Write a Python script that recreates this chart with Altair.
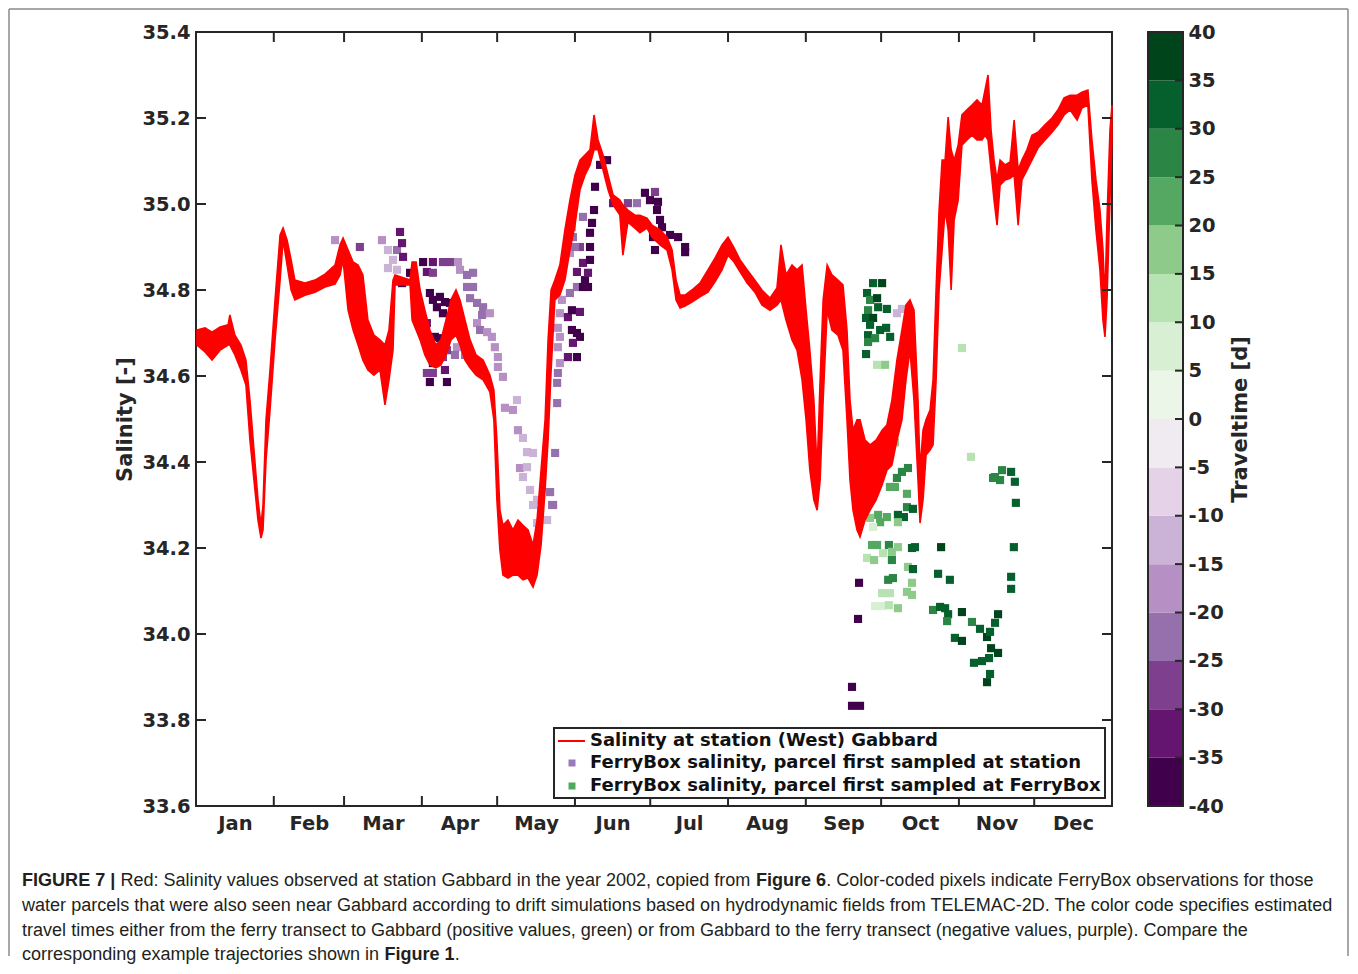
import altair as alt
import pandas as pd

# ---------------- data ----------------
# Salinity at station Gabbard (2002): upper / lower envelope of the tidal band
sal_day = [0.4, 3.6, 6.4, 9.6, 12.8, 13.5, 15.5, 17.9, 19.9, 21.5, 23.1, 24.7, 25.9, 26.7, 27.9, 29.5,
           31.5, 33.5, 34.7, 36.3, 37.9, 39.4, 43.4, 47.4, 51.4, 55.4, 57.4, 58.6, 60.6, 62.6, 64.6, 66.5,
           68.5, 70.9, 73.3, 75.3, 76.9, 78.5, 79.3, 85.3, 86.1, 87.7, 89.3, 91.2, 93.2, 95.6, 97.6, 99.6,
           101.6, 103.6, 105.2, 107.2, 109.2, 111.6, 114.4, 117.1, 118.7, 119.9, 121.1, 122.3, 124.3, 126.3,
           128.3, 130.3, 132.3, 134.3, 135.9, 137.5, 139.1, 140.3, 141.5, 143.0, 145.0, 147.0, 149.0, 151.0,
           153.0, 155.0, 157.0, 158.6, 160.2, 162.2, 164.2, 166.2, 168.9, 170.1, 172.1, 174.9, 176.9, 179.7,
           181.7, 184.9, 187.7, 189.7, 191.3, 192.9, 194.9, 197.6, 200.8, 204.0, 206.8, 209.6, 212.0, 214.4,
           216.8, 219.6, 222.7, 225.5, 228.7, 231.5, 233.1, 235.1, 237.5, 239.5, 241.5, 243.1, 244.6, 246.2,
           247.5, 248.7, 249.9, 251.5, 253.4, 255.8, 257.8, 259.4, 260.6, 261.8, 263.4, 264.6, 266.6, 268.6,
           271.0, 273.4, 275.3, 277.3, 279.3, 281.3, 282.9, 284.5, 286.1, 287.7, 288.5, 289.7, 290.9, 292.5,
           293.7, 294.9, 296.1, 297.3, 298.5, 299.7, 300.9, 302.1, 303.7, 305.2, 307.2, 309.2, 311.2, 313.2,
           314.4, 315.6, 316.8, 318.0, 319.2, 320.4, 322.4, 324.4, 326.0, 327.6, 329.1, 331.1, 333.1, 335.5,
           338.3, 341.1, 343.5, 345.9, 348.3, 351.1, 353.0, 355.4, 357.0, 358.6, 360.2, 361.4, 362.2, 363.0,
           364.2, 365.0]
sal_hi = [34.707, 34.712, 34.702, 34.714, 34.719, 34.742, 34.695, 34.672, 34.637, 34.544, 34.428, 34.312,
          34.253, 34.300, 34.498, 34.614, 34.777, 34.928, 34.944, 34.916, 34.870, 34.823, 34.816, 34.823,
          34.837, 34.858, 34.905, 34.921, 34.893, 34.865, 34.858, 34.835, 34.730, 34.695, 34.684, 34.672,
          34.707, 34.823, 34.835, 34.823, 34.865, 34.865, 34.800, 34.753, 34.707, 34.672, 34.684, 34.730,
          34.777, 34.800, 34.777, 34.730, 34.684, 34.649, 34.637, 34.602, 34.567, 34.451, 34.288, 34.253,
          34.265, 34.242, 34.265, 34.253, 34.242, 34.207, 34.265, 34.381, 34.498, 34.684, 34.800, 34.823,
          34.858, 34.940, 35.009, 35.067, 35.102, 35.114, 35.126, 35.207, 35.149, 35.114, 35.067, 35.021,
          35.009, 34.998, 34.986, 34.974, 34.974, 34.967, 34.951, 34.940, 34.923, 34.893, 34.823, 34.788,
          34.788, 34.800, 34.816, 34.847, 34.874, 34.905, 34.923, 34.898, 34.870, 34.847, 34.823, 34.800,
          34.781, 34.805, 34.905, 34.835, 34.858, 34.847, 34.858, 34.753, 34.660, 34.544, 34.381, 34.591,
          34.777, 34.858, 34.835, 34.823, 34.812, 34.707, 34.544, 34.474, 34.498, 34.498, 34.451, 34.440,
          34.451, 34.474, 34.486, 34.544, 34.637, 34.707, 34.765, 34.777, 34.753, 34.544, 34.381, 34.474,
          34.498, 34.521, 34.591, 34.800, 34.986, 35.102, 35.102, 35.202, 35.126, 35.102, 35.137, 35.207,
          35.219, 35.230, 35.242, 35.230, 35.265, 35.300, 35.172, 35.102, 35.056, 35.102, 35.091, 35.098,
          35.195, 35.079, 35.102, 35.126, 35.160, 35.167, 35.184, 35.200, 35.219, 35.247, 35.253, 35.253,
          35.260, 35.265, 35.149, 35.056, 34.986, 34.893, 34.777, 34.963, 35.172, 35.230]
sal_lo = [34.672, 34.656, 34.637, 34.660, 34.672, 34.672, 34.649, 34.614, 34.579, 34.451, 34.358, 34.265,
          34.223, 34.242, 34.405, 34.521, 34.684, 34.823, 34.916, 34.858, 34.800, 34.777, 34.788, 34.795,
          34.807, 34.814, 34.835, 34.870, 34.753, 34.707, 34.672, 34.637, 34.614, 34.602, 34.614, 34.533,
          34.591, 34.660, 34.812, 34.812, 34.730, 34.707, 34.684, 34.649, 34.626, 34.619, 34.626, 34.649,
          34.684, 34.695, 34.672, 34.637, 34.619, 34.602, 34.591, 34.563, 34.498, 34.312, 34.195, 34.137,
          34.130, 34.137, 34.137, 34.126, 34.130, 34.109, 34.137, 34.207, 34.335, 34.451, 34.614, 34.777,
          34.788, 34.823, 34.893, 34.951, 35.033, 35.067, 35.091, 35.126, 35.126, 35.079, 35.033, 34.998,
          34.974, 34.881, 34.958, 34.944, 34.933, 34.944, 34.923, 34.905, 34.893, 34.847, 34.777, 34.758,
          34.763, 34.772, 34.784, 34.795, 34.819, 34.847, 34.881, 34.865, 34.842, 34.816, 34.795, 34.765,
          34.753, 34.765, 34.777, 34.730, 34.684, 34.660, 34.591, 34.498, 34.381, 34.312, 34.288, 34.358,
          34.544, 34.753, 34.707, 34.695, 34.660, 34.498, 34.358, 34.288, 34.242, 34.226, 34.265, 34.288,
          34.312, 34.347, 34.381, 34.393, 34.451, 34.498, 34.591, 34.660, 34.544, 34.358, 34.258, 34.312,
          34.416, 34.428, 34.440, 34.591, 34.800, 34.893, 34.986, 34.940, 34.800, 34.963, 35.009, 35.137,
          35.149, 35.160, 35.149, 35.149, 35.160, 35.149, 35.079, 35.009, 34.951, 35.044, 35.056, 35.060,
          35.067, 34.951, 35.056, 35.079, 35.102, 35.130, 35.149, 35.167, 35.184, 35.207, 35.219, 35.195,
          35.223, 35.230, 35.056, 34.940, 34.847, 34.730, 34.691, 34.777, 35.009, 35.149]

# FerryBox observations: day of year, salinity, travel time [d]
fb_day = [55.4, 65.3, 74.1, 76.5, 80.1, 81.3, 82.1, 82.5, 78.5, 76.5, 80.1, 82.1, 85.3, 90.5, 94.4, 98.4,
          92.0, 94.4, 101.2, 104.4, 105.2, 108.0, 110.4, 108.0, 110.4, 109.2, 112.0, 114.4, 114.0, 117.1,
          112.0, 113.2, 116.0, 117.9, 119.1, 120.3, 120.3, 122.3, 93.2, 97.2, 96.0, 98.4, 94.4, 99.2, 101.2,
          89.3, 92.0, 95.2, 97.2, 100.0, 98.4, 94.4, 92.0, 94.4, 99.2, 93.2, 100.0, 104.0, 103.2, 107.2,
          104.0, 123.1, 126.3, 127.9, 128.3, 130.3, 131.9, 134.3, 129.1, 131.9, 130.3, 133.1, 135.9, 134.3,
          141.1, 141.9, 135.9, 139.9, 142.3, 143.1, 143.9, 143.9, 144.2, 145.0, 144.2, 145.0, 144.2, 145.0,
          145.8, 148.2, 148.2, 149.8, 151.8, 153.0, 150.2, 151.8, 149.8, 153.0, 149.0, 151.8, 154.2, 156.2,
          155.0, 156.2, 154.2, 157.0, 153.0, 157.0, 151.8, 149.0, 149.8, 150.2, 151.0, 154.2, 157.8, 157.0,
          158.6, 159.0, 163.8, 161.0, 166.2, 172.1, 175.7, 178.9, 182.9, 180.9, 184.1, 183.7, 184.9, 185.7,
          182.1, 182.9, 188.9, 192.1, 194.9, 194.9, 279.3, 281.3, 264.2, 263.8, 261.4, 261.4, 264.6,
          269.8, 273.4, 267.4, 268.6, 271.4, 267.8, 271.8, 275.3, 267.0, 269.8, 268.6, 272.6, 275.0, 267.8,
          270.6, 276.6, 267.8, 267.0, 271.4, 274.6, 305.2, 308.8, 274.2, 278.5, 269.8, 283.7, 281.3, 279.3,
          276.5, 278.5, 283.3, 283.3, 285.7, 271.8, 275.3, 268.6, 279.7, 282.1, 272.6, 279.7, 269.8, 269.4,
          271.4, 276.1, 279.7, 285.3, 286.5, 267.4, 270.2, 273.8, 277.3, 277.3, 283.7, 285.7, 296.9, 295.7,
          300.4, 275.8, 277.7, 285.3, 273.4, 276.5, 283.3, 285.3, 270.6, 273.4, 276.1, 279.7, 293.7, 296.5,
          298.5, 299.7, 299.3, 305.2, 309.2, 312.4, 315.2, 316.4, 302.4, 305.2, 316.8, 319.6, 316.0, 313.2,
          310.0, 316.4, 315.2, 319.6, 318.4, 318.4, 321.2, 320.4, 324.8, 326.3, 326.7, 325.9, 324.8, 324.8,
          317.6]
fb_sal = [34.916, 34.900, 34.916, 34.893, 34.893, 34.935, 34.909, 34.877, 34.870, 34.851, 34.847, 34.816,
          34.840, 34.865, 34.865, 34.865, 34.842, 34.840, 34.865, 34.865, 34.847, 34.835, 34.840, 34.807,
          34.807, 34.781, 34.770, 34.760, 34.742, 34.746, 34.723, 34.707, 34.702, 34.691, 34.667, 34.644,
          34.621, 34.598, 34.793, 34.784, 34.760, 34.746, 34.777, 34.772, 34.770, 34.730, 34.723, 34.691,
          34.688, 34.660, 34.644, 34.630, 34.607, 34.607, 34.614, 34.586, 34.586, 34.667, 34.649, 34.649,
          34.700, 34.526, 34.521, 34.544, 34.474, 34.456, 34.423, 34.421, 34.386, 34.388, 34.365, 34.335,
          34.312, 34.300, 34.330, 34.300, 34.258, 34.265, 34.300, 34.421, 34.537, 34.584, 34.607, 34.630,
          34.667, 34.691, 34.712, 34.746, 34.777, 34.737, 34.644, 34.707, 34.700, 34.691, 34.677, 34.644,
          34.753, 34.749, 34.793, 34.807, 34.807, 34.807, 34.823, 34.840, 34.863, 34.870, 34.900, 34.900,
          34.842, 34.886, 34.946, 34.923, 34.900, 34.970, 34.956, 34.933, 34.986, 35.040, 35.102, 35.091,
          35.002, 35.002, 35.002, 35.026, 35.028, 35.009, 35.005, 34.986, 34.963, 34.946, 34.923, 34.893,
          34.928, 34.923, 34.900, 34.888, 34.746, 34.756, 34.119, 34.035, 33.877, 33.833, 33.833,
          34.816, 34.816, 34.793, 34.777, 34.781, 34.753, 34.760, 34.756, 34.735, 34.735, 34.719, 34.707,
          34.712, 34.695, 34.688, 34.691, 34.679, 34.651, 34.626, 34.626, 34.665, 34.412, 34.446, 34.446,
          34.409, 34.386, 34.377, 34.363, 34.342, 34.342, 34.326, 34.295, 34.291, 34.277, 34.272, 34.270,
          34.277, 34.272, 34.260, 34.260, 34.249, 34.207, 34.207, 34.207, 34.202, 34.200, 34.202, 34.177,
          34.172, 34.188, 34.191, 34.172, 34.156, 34.151, 34.202, 34.140, 34.126, 34.126, 34.130, 34.119,
          34.095, 34.095, 34.098, 34.091, 34.065, 34.065, 34.067, 34.060, 34.056, 34.063, 34.060, 34.046,
          34.030, 34.051, 34.028, 34.012, 33.993, 34.005, 33.991, 33.984, 33.967, 33.956, 33.944, 33.937,
          33.933, 33.907, 33.888, 34.046, 34.026, 34.365, 34.381, 34.358, 34.377, 34.354, 34.305, 34.202,
          34.133, 34.105, 34.363]
fb_tt = [-17, -30, -17, -15, -22, -33, -33, -33, -13, -13, -13, -37, -37, -38, -33, -27,
         -33, -28, -27, -18, -18, -22, -22, -22, -22, -22, -22, -22, -22, -17,
         -17, -22, -17, -17, -17, -17, -17, -17, -38, -38, -38, -38, -38, -38, -38,
         -35, -35, -38, -38, -28, -28, -38, -28, -28, -33, -38, -38, -18, -22, -22,
         -18, -17, -17, -15, -18, -15, -15, -13, -18, -15, -13, -13, -13, -15,
         -22, -22, -15, -15, -22, -22, -25, -22, -22, -18, -18, -17, -17, -20,
         -20, -33, -35, -38, -38, -38, -35, -38, -38, -33, -25, -25, -38, -38,
         -38, -35, -33, -38, -28, -38, -35, -20, -20, -22, -25, -25, -38, -38,
         -38, -38, -38, -38, -33, -28, -25, -38, -28, -38, -38, -38, -38, -38,
         -38, -38, -38, -38, -38, -38, -12, -12, -38, -38, -38, -38, -38,
         33, 38, 33, 28, 38, 28, 33, 33, 33, 38, 33, 33, 33, 33,
         25, 33, 28, 33, 12, 17, 13, 13, 12, 17, 23, 25, 25, 28,
         23, 23, 23, 25, 33, 23, 23, 15, 33, 33, 23, 17, 7, 23,
         23, 28, 17, 33, 33, 12, 17, 12, 17, 25, 17, 33, 38, 33,
         33, 25, 28, 17, 13, 13, 15, 17, 7, 7, 12, 17, 28, 33,
         33, 33, 28, 38, 28, 33, 38, 33, 33, 38, 38, 38, 33, 33,
         33, 33, 38, 38, 33, 25, 28, 28, 33, 33, 33, 33, 33, 33,
         25]

month_names = ["Jan", "Feb", "Mar", "Apr", "May", "Jun", "Jul", "Aug", "Sep", "Oct", "Nov", "Dec"]
month_start = [31, 59, 90, 120, 151, 181, 212, 243, 273, 304, 334]
month_mid = [15.5, 45, 74.5, 105, 135.5, 166, 196.5, 227.5, 258, 288.5, 319, 349.5]
sal_ticks = [33.6, 33.8, 34.0, 34.2, 34.4, 34.6, 34.8, 35.0, 35.2, 35.4]
tt_ticks = [-40, -35, -30, -25, -20, -15, -10, -5, 0, 5, 10, 15, 20, 25, 30, 35, 40]
tt_bins_lo = [-40, -35, -30, -25, -20, -15, -10, -5, 0, 5, 10, 15, 20, 25, 30, 35]
tt_colors = ["#40004b", "#641570", "#7e3f8e", "#9570ad", "#b690c4", "#cbb3d8", "#e6d2e8", "#f0ebf1",
             "#ebf5e8", "#d8efd3", "#b7e2b1", "#8ecb8a", "#55a862", "#2b8545", "#06602d", "#00441b"]

legend_labels = ["Salinity at station (West) Gabbard",
                 "FerryBox salinity, parcel first sampled at station",
                 "FerryBox salinity, parcel first sampled at FerryBox"]

caption_lines = [
    [("FIGURE 7 |", True), ("Red: Salinity values observed at station Gabbard in the year 2002, copied from", False),
     ("Figure 6", True), (". Color-coded pixels indicate FerryBox observations for those", False)],
    [("water parcels that were also seen near Gabbard according to drift simulations based on hydrodynamic fields from TELEMAC-2D. The color code specifies estimated", False)],
    [("travel times either from the ferry transect to Gabbard (positive values, green) or from Gabbard to the ferry transect (negative values, purple). Compare the", False)],
    [("corresponding example trajectories shown in", False), ("Figure 1", True), (".", False)],
]
# whether a space separates a segment from the previous one
caption_gap = [[False, True, True, False], [False], [False], [False, True, False]]

# ---------------- text metrics (Helvetica / Liberation Sans advance widths, 1/1000 em) ----------------
_REG = dict(zip("abcdefghijklmnopqrstuvwxyz",
                [556, 556, 500, 556, 556, 278, 556, 556, 222, 222, 500, 222, 833, 556, 556, 556, 556, 333,
                 500, 278, 556, 500, 722, 500, 500, 500]))
_REG.update(dict(zip("ABCDEFGHIJKLMNOPQRSTUVWXYZ",
                     [667, 667, 722, 722, 667, 611, 778, 722, 278, 500, 667, 556, 833, 722, 778, 667, 778,
                      722, 667, 611, 722, 667, 944, 667, 667, 611])))
_REG.update({" ": 278, "(": 333, ")": 333, ",": 278, "-": 333, ".": 278, ":": 278, "|": 260})
_REG.update({d: 556 for d in "0123456789"})
_BOLD = dict(zip("abcdefghijklmnopqrstuvwxyz",
                 [556, 611, 556, 611, 556, 333, 611, 611, 278, 278, 556, 278, 889, 611, 611, 611, 611, 389,
                  556, 333, 611, 556, 778, 556, 556, 500]))
_BOLD.update(dict(zip("ABCDEFGHIJKLMNOPQRSTUVWXYZ",
                      [722, 722, 722, 722, 667, 611, 778, 722, 278, 556, 722, 611, 833, 722, 778, 667, 778,
                       722, 667, 611, 722, 667, 944, 667, 667, 611])))
_BOLD.update({" ": 278, "(": 333, ")": 333, ",": 278, "-": 333, ".": 278, ":": 333, "|": 280})
_BOLD.update({d: 556 for d in "0123456789"})


def text_em(s, bold):
    table = _BOLD if bold else _REG
    return sum(table.get(ch, 556) for ch in s) / 1000.0


# ---------------- layout constants (pixels, relative to plot area) ----------------
W, H = 916, 774
INK = "#262626"
FONT = "DejaVu Sans"
CAP_FONT = "Liberation Sans"
CAP_X0 = -174
CAP_RIGHT = 1138                      # right end of the widest caption line
CAP_FS = (CAP_RIGHT - CAP_X0) / text_em(caption_lines[1][0][0], False)

sal_df = pd.DataFrame({"day": sal_day, "hi": sal_hi, "lo": sal_lo})
fb_df = pd.DataFrame({"day": fb_day, "sal": fb_sal, "tt": fb_tt})
color_scale = alt.Scale(type="threshold", domain=tt_ticks[1:-1], range=tt_colors)

xscale = alt.Scale(domain=[0, 365], nice=False, zero=False)
yscale = alt.Scale(domain=[33.6, 35.4], nice=False, zero=False)
ttscale = alt.Scale(domain=[-40, 40], nice=False, zero=False)

label_expr = "[" + ",".join("'%s'" % m for m in month_names) + "][round((datum.value - 15.5) / 30.33)]"
x_axis = alt.Axis(values=month_mid, labelExpr=label_expr, title=None, ticks=False,
                  domain=False, grid=False, labelPadding=8)
y_axis = alt.Axis(values=sal_ticks, format=".1f", title="Salinity [-]", ticks=False,
                  domain=False, grid=False, labelPadding=6, titlePadding=6)
CBX0, CBX1 = 952, 987
cb_axis = alt.Axis(orient="right", offset=CBX1 - W, values=tt_ticks,
                   labelExpr="datum.value < 0 ? '-' + (-datum.value) : '' + datum.value",
                   title="Traveltime [d]", titleAngle=270, titleBaseline="top",
                   ticks=False, domain=False, grid=False, labelPadding=5, titlePadding=6)

points = alt.Chart(fb_df).mark_square(size=66, opacity=1).encode(
    x=alt.X("day:Q", scale=xscale, axis=x_axis),
    y=alt.Y("sal:Q", scale=yscale, axis=y_axis),
    color=alt.Color("tt:Q", scale=color_scale, legend=None),
)

band = alt.Chart(sal_df).mark_area(color="#ff0000", stroke="#ff0000", strokeWidth=1.6, opacity=1).encode(
    x=alt.X("day:Q", scale=xscale, axis=x_axis),
    y=alt.Y("hi:Q", scale=yscale, axis=y_axis),
    y2="lo:Q",
)

inner_sal = pd.DataFrame({"sal": sal_ticks[1:-1]})
inner_month = pd.DataFrame({"day": month_start})
tick_style = dict(color=INK, strokeWidth=2)
ticks_left = alt.Chart(inner_sal).mark_rule(**tick_style).encode(
    y=alt.Y("sal:Q", scale=yscale, axis=y_axis), x=alt.value(0), x2=alt.value(10))
ticks_right = alt.Chart(inner_sal).mark_rule(**tick_style).encode(
    y=alt.Y("sal:Q", scale=yscale, axis=y_axis), x=alt.value(W - 10), x2=alt.value(W))
ticks_bottom = alt.Chart(inner_month).mark_rule(**tick_style).encode(
    x=alt.X("day:Q", scale=xscale, axis=x_axis), y=alt.value(H - 10), y2=alt.value(H))
ticks_top = alt.Chart(inner_month).mark_rule(**tick_style).encode(
    x=alt.X("day:Q", scale=xscale, axis=x_axis), y=alt.value(0), y2=alt.value(10))

one = pd.DataFrame({"k": [0]})
# legend box
LX0, LX1, LY0, LY1 = 358, 909, 696, 766
rows_y = [709, 731, 754]
leg_box = alt.Chart(one).mark_rect(fill="white", stroke=INK, strokeWidth=2).encode(
    x=alt.value(LX0), x2=alt.value(LX1), y=alt.value(LY0), y2=alt.value(LY1))
leg_line = alt.Chart(one).mark_rule(color="#ff0000", strokeWidth=2).encode(
    x=alt.value(362), x2=alt.value(389), y=alt.value(rows_y[0]))
leg_sq1 = alt.Chart(one).mark_square(size=49, color="#9a7ab8", opacity=1).encode(
    x=alt.value(376), y=alt.value(rows_y[1]))
leg_sq2 = alt.Chart(one).mark_square(size=49, color="#4daa5c", opacity=1).encode(
    x=alt.value(376), y=alt.value(rows_y[2]))
leg_text = [
    alt.Chart(one).mark_text(text=lab, x=394, y=yy, align="left", baseline="middle", font=FONT,
                             fontWeight="bold", fontSize=18, color="#111111")
    for lab, yy in zip(legend_labels, rows_y)
]

# outer figure border (left, top, right)
BORDER = "#8a8a8a"
BX0, BX1, BY0, BY1 = -187, 1152, -23, 924
border = [
    alt.Chart(one).mark_rule(color=BORDER, strokeWidth=1.5).encode(
        x=alt.value(BX0), y=alt.value(BY0), y2=alt.value(BY1)),
    alt.Chart(one).mark_rule(color=BORDER, strokeWidth=1.5).encode(
        x=alt.value(BX0), x2=alt.value(BX1), y=alt.value(BY0)),
    alt.Chart(one).mark_rule(color=BORDER, strokeWidth=1.5).encode(
        x=alt.value(BX1), y=alt.value(BY0), y2=alt.value(BY1)),
]

# caption, laid out segment by segment (bold parts as separate texts)
cap_y = [849, 874, 899, 923]
caption = []
for segs, gaps, yy in zip(caption_lines, caption_gap, cap_y):
    xx = CAP_X0
    for (txt, bold), gap in zip(segs, gaps):
        if gap:
            xx += text_em(" ", False) * CAP_FS
        caption.append(alt.Chart(one).mark_text(
            text=txt, x=xx, y=yy, align="left", baseline="middle", font=CAP_FONT,
            fontSize=CAP_FS, fontWeight="bold" if bold else "normal", color="#231f20"))
        xx += text_em(txt, bold) * CAP_FS

main = alt.layer(points, band, ticks_left, ticks_right, ticks_bottom, ticks_top,
                 leg_box, leg_line, leg_sq1, leg_sq2, *leg_text, *border, *caption)

# colour bar
cb_df = pd.DataFrame({"tt": tt_bins_lo, "tt_hi": [v + 5 for v in tt_bins_lo],
                      "mid": [v + 2.5 for v in tt_bins_lo]})
cb_rects = alt.Chart(cb_df).mark_rect().encode(
    x=alt.value(CBX0), x2=alt.value(CBX1),
    y=alt.Y("tt:Q", scale=ttscale, axis=cb_axis),
    y2="tt_hi:Q",
    color=alt.Color("mid:Q", scale=color_scale, legend=None),
)
cb_frame = alt.Chart(pd.DataFrame({"tt": [-40], "tt_hi": [40]})).mark_rect(
    fillOpacity=0, stroke=INK, strokeWidth=2).encode(
    x=alt.value(CBX0), x2=alt.value(CBX1),
    y=alt.Y("tt:Q", scale=ttscale, axis=cb_axis), y2="tt_hi:Q")
cb_ticks = alt.Chart(pd.DataFrame({"tt": tt_ticks[1:-1]})).mark_rule(**tick_style).encode(
    y=alt.Y("tt:Q", scale=ttscale, axis=cb_axis), x=alt.value(CBX1 - 8), x2=alt.value(CBX1))
cbar = alt.layer(cb_rects, cb_frame, cb_ticks)

chart = alt.layer(main, cbar).resolve_scale(y="independent").properties(
    width=W, height=H, padding=0
).configure_view(stroke=INK, strokeWidth=2).configure_axis(
    labelFont=FONT, labelFontWeight="bold", labelFontSize=19.5, labelColor=INK,
    titleFont=FONT, titleFontWeight="bold", titleFontSize=21, titleColor=INK,
)

chart.save("out.html", embed_options={"renderer": "svg", "actions": False})
